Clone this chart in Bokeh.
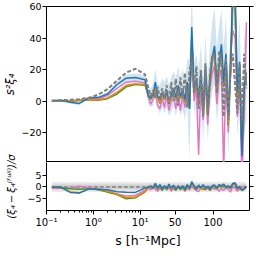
import numpy as np
from bokeh.plotting import figure
from bokeh.layouts import column
from bokeh.models import Range1d, LinearAxis, FixedTicker
from bokeh.embed import file_html
from bokeh.resources import INLINE

# ---------------- data ----------------
s = [0.13, 0.2, 0.32, 0.5, 0.8, 1.26, 2.0, 3.2, 5.0, 7.9, 12.6,
     15, 18, 21, 24, 27, 30, 33, 36, 39, 42, 45, 48, 51, 54, 57, 60, 63, 66, 69, 72,
     75, 78, 81, 84, 87, 90, 93, 96, 99, 102, 105, 108, 111, 114, 117, 120, 123, 126,
     129, 132, 135, 138, 141, 144]

xi_blue = [0.2, 0.5, -0.8, -1.5, 2.0, 2.2, 4.5, 10.5, 14.5, 15.0, 13.5,
           3.0, 2.0, 4.0, 12.0, 3.0, 1.0, 5.5, 2.0, 6.0, 0.5, 4.0, 8.0, 2.5, 10.0, 3.0,
           7.5, 1.0, 12.0, -5.0, 47.0, 8.0, 14.0, 2.0, 18.0, -6.0, 22.0, -5.0, 15.0, 28.0,
           35.0, 10.0, 24.0, 36.0, 12.0, 30.0, -10.0, 20.0, 75.0, 70.0, 5.0, 25.0, -35.0, 10.0, 18.0]
sig_blue = [0.4, 0.5, 0.8, 1.2, 1.0, 1.0, 1.3, 1.8, 2.2, 2.5, 3.0,
            5, 6, 7, 8, 8, 9, 9, 10, 10, 10, 11, 11, 12, 12, 12, 13, 13, 14, 32, 22,
            16, 16, 18, 18, 20, 20, 20, 20, 22, 24, 24, 24, 22, 22, 24, 24, 26, 26, 26,
            28, 28, 30, 30, 30]
xi_orange = [0.0, 0.3, 0.2, 0.5, 1.0, 0.8, 2.0, 5.5, 10.0, 11.0, 10.5,
             4.0, 1.5, 3.0, 8.0, 2.0, -1.0, 4.0, 1.5, 5.0, -1.0, 3.0, 6.5, 1.5, 8.0, 2.0,
             6.0, 0.0, 10.0, -4.0, 40.0, 6.0, 12.0, 0.0, 15.0, -8.0, 19.0, -8.0, 12.0, 25.0,
             31.0, 8.0, 20.0, 32.0, 10.0, 26.0, -14.0, 17.0, 65.0, 62.0, 2.0, 22.0, -30.0, 8.0, 15.0]
xi_green = [0.0, 0.2, 0.0, 0.3, 0.8, 0.5, 1.5, 4.5, 9.0, 10.5, 10.0,
            3.5, 1.0, 3.5, 7.0, 2.5, -1.5, 4.5, 1.0, 5.5, -1.5, 3.5, 6.0, 1.0, 8.5, 1.5,
            6.5, -0.5, 10.5, -4.5, 41.0, 5.5, 12.5, -1.0, 15.5, -9.0, 19.5, -9.0, 12.5, 25.5,
            32.0, 7.5, 20.5, 31.0, 9.0, 26.5, -15.0, 17.5, 66.0, 61.0, 1.5, 22.5, -32.0, 7.5, 15.5]
xi_pink = [0.0, 0.2, 0.0, 0.5, 1.5, 1.5, 3.5, 8.0, 12.0, 12.5, 11.5,
           2.0, -2.0, 1.0, 5.0, -3.0, -5.0, 2.0, -4.0, 3.0, -6.0, 0.0, 4.0, -5.0, 5.0, -6.0,
           3.0, -4.0, 6.0, -2.0, 30.0, 0.0, 8.0, -34.0, 10.0, -12.0, 14.0, -15.0, 8.0, 18.0,
           22.0, -2.0, 15.0, 20.0, -45.0, 20.0, -20.0, 30.0, 45.0, 40.0, -10.0, 15.0, -50.0, -10.0, 50.0]
xi_full = [0.3, 0.5, 0.8, 1.2, 2.0, 4.0, 7.5, 13.0, 18.0, 20.5, 17.0,
           8.0, 3.0, 7.0, 2.0, 9.0, 1.0, 8.0, 2.0, 10.0, -2.0, 12.0, 0.0, 14.0, -3.0, 15.0,
           2.0, 18.0, -4.0, 20.0, 25.0, 5.0, 22.0, -5.0, 20.0, -10.0, 24.0, -8.0, 18.0, 30.0,
           28.0, 5.0, 32.0, 25.0, -10.0, 28.0, -12.0, 22.0, 30.0, 10.0, -8.0, 24.0, -12.0, 30.0, 8.0]

r_blue = [0.0, 0.0, -2.3, -2.6, -0.8, -1.0, -1.2, -2.0, -2.2, -2.3, -0.5,
          0.0, 0.5, -0.5, 1.5, -0.5, 1.0, -1.0, 0.5, -0.8, 1.2, -0.5, 0.8, -1.0, 0.5, -0.8,
          0.5, -1.2, 1.0, -0.5, 2.3, 0.5, -0.8, 0.8, -0.3, 1.0, -0.5, 0.3, -1.0, 0.5,
          0.8, -0.5, 1.0, 0.5, 1.2, 0.0, 0.5, -0.3, 1.5, 1.8, -0.5, 0.2, -1.5, -0.5, 0.3]
r_orange = [0.0, -0.3, -2.0, -2.5, -0.8, -1.0, -1.8, -3.0, -4.5, -4.3, -2.0,
            0.3, -0.3, 0.0, 0.8, -0.8, 0.5, -1.2, 0.2, -1.0, 0.8, -0.8, 0.5, -1.2, 0.3, -1.0,
            0.2, -1.4, 0.8, -0.7, 1.8, 0.2, -1.0, 0.5, -0.5, -0.8, -0.7, 0.0, -1.2, 0.3,
            0.5, -0.7, 0.8, 0.3, 1.0, -0.2, 0.3, -0.5, 1.2, 1.5, -0.7, 0.0, -1.3, -0.7, 0.1]
r_green = [0.0, -0.3, -0.8, -1.0, -0.8, -1.2, -2.2, -3.2, -5.0, -4.6, -2.2,
           0.1, -0.5, -0.2, 0.6, -1.0, 0.3, -1.4, 0.0, -1.2, 0.6, -1.0, 0.3, -1.4, 0.1, -1.2,
           0.0, -1.6, 0.6, -0.9, 1.6, 0.0, -1.2, 0.3, -0.7, -1.0, -0.9, -0.2, -1.4, 0.1,
           0.3, -0.9, 0.6, 0.1, 0.8, -0.4, 0.1, -0.7, 1.0, 1.3, -0.9, -0.2, -1.5, -0.9, -0.1]
r_pink = [-0.5, -0.5, -0.3, 0.3, -0.2, -1.0, -1.8, -3.0, -3.8, -3.5, -1.5,
          -0.5, -1.2, -0.3, -1.0, -1.8, -0.5, -1.5, 0.3, -1.2, -0.3, -1.8, -0.8, -1.5, 0.2, -1.0,
          -0.5, -1.8, -0.5, -1.2, 0.5, -0.8, -1.5, -2.0, -0.3, -1.0, -1.2, -0.5, -1.5, -0.2,
          -1.0, -0.5, -1.8, -0.8, -1.5, -0.3, -1.0, -2.2, 0.3, -0.5, -1.8, -1.0, -0.2, 0.3, 0.0]

sigma_levels = [2, 1]

x_major = [0.1, 1, 10, 50, 100]
x_major_labels = ["10\u207b\u00b9", "10\u2070", "10\u00b9", "50", "100"]
x_minor = [k * 10.0 ** e for e in (-1, 0) for k in range(2, 10)]
y_main_ticks = [-20, 0, 20, 40, 60]
y_ratio_ticks = [-5, 0, 5]

MAIN_LIM = (-39, 60)
RATIO_LIM = (-10, 10.4)
X_LIM = (0.1, 148)

# ---------------- scale: log below S0, linear above ----------------
S0 = 15.0
K = 0.794 / 49.0


def xpos(v):
    v = np.asarray(v, dtype=float)
    return np.where(v <= S0, np.log10(v), np.log10(S0) + (v - S0) * K)


BLUE, ORANGE, GREEN, PINK, GRAY = "#1f77b4", "#ff7f0e", "#2ca02c", "#e377c2", "#7f7f7f"
FONT = "DejaVu Sans"
W, BL, BR = 254, 40, 5
OVERLAP = 24

xs = xpos(s)
xr = Range1d(float(xpos(X_LIM[0])), float(xpos(X_LIM[1])))


def minus(v):
    return str(v).replace("-", "\u2212")


def style_axis(ax, label_standoff=1):
    ax.axis_line_color = "black"
    ax.major_tick_line_color = "black"
    ax.minor_tick_line_color = "black"
    ax.major_tick_out = 4
    ax.major_tick_in = 0
    ax.minor_tick_out = 2
    ax.minor_tick_in = 0
    ax.major_label_text_font = FONT
    ax.major_label_text_font_size = "9.5px"
    ax.major_label_text_color = "black"
    ax.major_label_standoff = label_standoff
    ax.axis_label_text_font = FONT
    ax.axis_label_text_color = "black"


# ================= main panel =================
p1 = figure(width=W, height=162, output_backend="svg", toolbar_location=None,
            x_range=xr, y_range=Range1d(*MAIN_LIM), x_axis_location=None,
            min_border_left=BL, min_border_right=BR, min_border_top=6, min_border_bottom=0)
p1.grid.visible = False
p1.outline_line_color = "black"
p1.background_fill_color = "white"
p1.border_fill_color = "white"

lo = np.array(xi_blue) - np.array(sig_blue)
hi = np.array(xi_blue) + np.array(sig_blue)
p1.varea(x=xs, y1=lo, y2=hi, fill_color=BLUE, fill_alpha=0.2)
for ys, c in [(xi_pink, PINK), (xi_green, GREEN), (xi_orange, ORANGE), (xi_blue, BLUE)]:
    p1.line(xs, ys, line_color=c, line_width=1.5)
p1.line(xs, xi_full, line_color=GRAY, line_width=2, line_dash="4 2")

ya = p1.yaxis[0]
ya.ticker = FixedTicker(ticks=y_main_ticks, minor_ticks=[])
ya.major_label_overrides = {t: minus(t) for t in y_main_ticks}
ya.axis_label = "s\u00b2\u03be\u2084"
ya.axis_label_text_font_size = "11.5px"
ya.axis_label_text_font_style = "italic"
ya.axis_label_standoff = 1
style_axis(ya)
ra = LinearAxis(ticker=FixedTicker(ticks=y_main_ticks, minor_ticks=[]),
                major_label_overrides={t: "" for t in y_main_ticks})
style_axis(ra, 0)
p1.add_layout(ra, "right")

# ================= ratio panel =================
# its canvas reaches OVERLAP px up behind the main panel (transparent border),
# so that its long vertical axis label is not cut at the top
p2 = figure(width=W, height=88 + OVERLAP, output_backend="svg", toolbar_location=None,
            x_range=xr, y_range=Range1d(*RATIO_LIM),
            min_border_left=BL, min_border_right=BR, min_border_top=OVERLAP,
            min_border_bottom=35)
p2.margin = (-OVERLAP, 0, 0, 0)
p2.grid.visible = False
p2.outline_line_color = None
p2.background_fill_color = "white"
p2.border_fill_color = None

xb = [float(xs[0]), float(xs[-1])]
for lev in sigma_levels:
    p2.varea(x=xb, y1=[-lev, -lev], y2=[lev, lev], fill_color=GRAY, fill_alpha=0.2)
p2.line(xb, [0, 0], line_color=GRAY, line_width=1.5, line_dash="4 2")
for ys, c in [(r_pink, PINK), (r_green, GREEN), (r_orange, ORANGE), (r_blue, BLUE)]:
    p2.line(xs, ys, line_color=c, line_width=1.5)

xt_major = [round(float(v), 6) for v in xpos(x_major)]
xt_minor = [round(float(v), 6) for v in xpos(x_minor)]
xa = p2.xaxis[0]
xa.ticker = FixedTicker(ticks=xt_major, minor_ticks=xt_minor)
xa.major_label_overrides = {t: l for t, l in zip(xt_major, x_major_labels)}
xa.axis_label = "s [h\u207b\u00b9Mpc]"
xa.axis_label_text_font_size = "12.5px"
xa.axis_label_text_font_style = "normal"
xa.axis_label_standoff = 2
style_axis(xa, 2)
xa.major_label_text_font_size = "10px"

yb = p2.yaxis[0]
yb.ticker = FixedTicker(ticks=y_ratio_ticks, minor_ticks=[])
yb.major_label_overrides = {t: minus(t) for t in y_ratio_ticks}
yb.axis_label = "(\u03be\u2084\u2009\u2212\u2009\u03be\u2084\u207d\u1da0\u1d58\u02e1\u02e1\u207e)/\u03c3"
yb.axis_label_text_font_size = "10px"
yb.axis_label_text_font_style = "italic"
yb.axis_label_standoff = 7
style_axis(yb)
rb = LinearAxis(ticker=FixedTicker(ticks=y_ratio_ticks, minor_ticks=[]),
                major_label_overrides={t: "" for t in y_ratio_ticks})
style_axis(rb, 0)
p2.add_layout(rb, "right")

layout = column(p1, p2, spacing=0)
open("out.html", "w").write(file_html(layout, INLINE))
